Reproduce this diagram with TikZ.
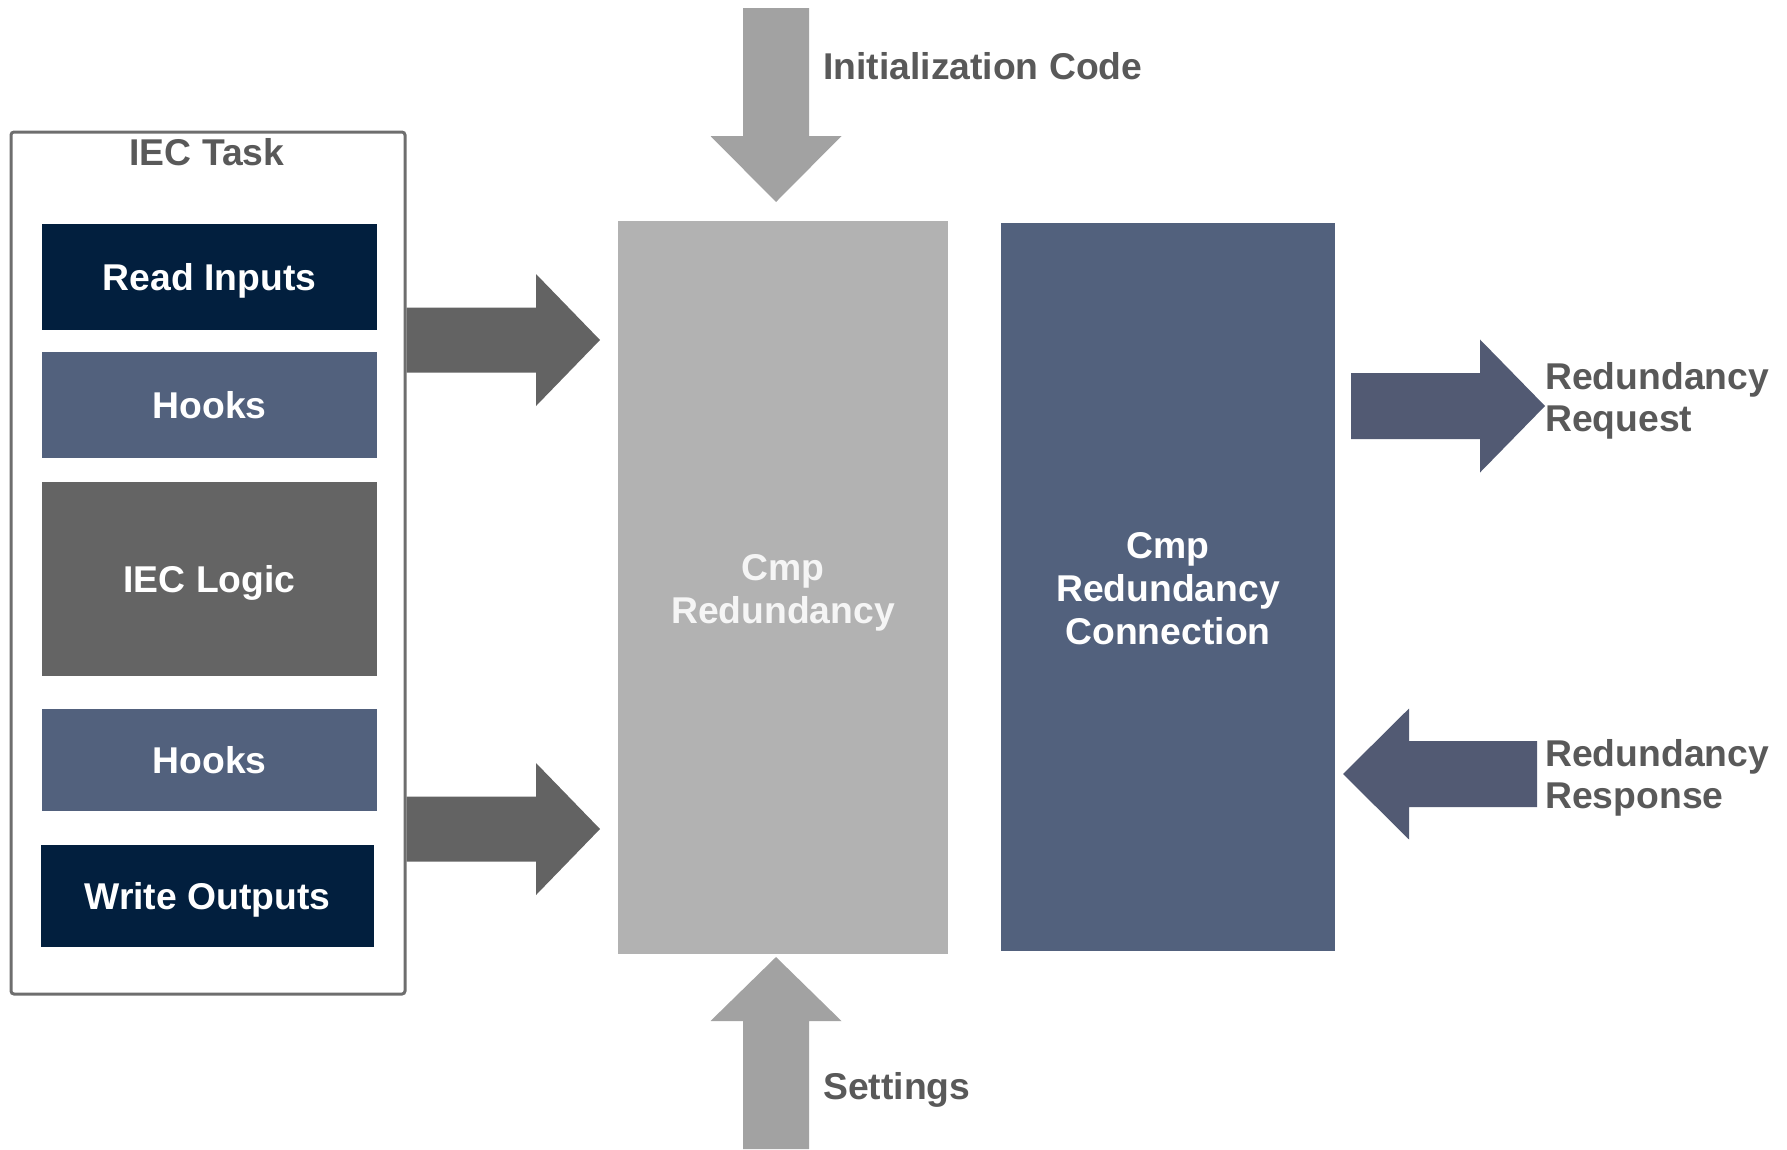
\documentclass[tikz,border=0pt]{standalone}
\usepackage{fontspec}
\setmainfont{Liberation Sans}
\usetikzlibrary{calc}

\definecolor{navy}{HTML}{021F3E}
\definecolor{slate}{HTML}{52617D}
\definecolor{logicgray}{HTML}{646464}
\definecolor{cmpgray}{HTML}{B2B2B2}
\definecolor{feedgray}{HTML}{A2A2A2}
\definecolor{flowgray}{HTML}{636363}
\definecolor{linkslate}{HTML}{525A73}
\definecolor{labelgray}{HTML}{595959}
\definecolor{framegray}{HTML}{6E6E6E}

% Block arrow from a tail point to a tip point:
% #1 colour, #2 tail, #3 tip, #4 half shaft width, #5 head length, #6 half head width
\newcommand\blockarrow[6]{%
  \path ($(#3)!#5pt!(#2)$) coordinate (ba-neck);
  \fill[#1] ($(#2)!#4pt!90:(#3)$) -- ($(ba-neck)!#4pt!90:(#3)$)
    -- ($(ba-neck)!#6pt!90:(#3)$) -- (#3)
    -- ($(ba-neck)!#6pt!-90:(#3)$) -- ($(ba-neck)!#4pt!-90:(#3)$)
    -- ($(#2)!#4pt!-90:(#3)$) -- cycle;}

\begin{document}
\begin{tikzpicture}[x=1pt,y=-1pt,
  font=\fontsize{37.3}{43}\selectfont\bfseries,
  block/.style={inner sep=0pt, text=white, align=center,
                text height=30.2pt, text depth=3.5pt},
  panel/.style={inner sep=0pt},
  paneltext/.style={inner sep=0pt, text=white, align=center},
  caption/.style={inner sep=0pt, text=labelgray, align=left, anchor=west,
                  font=\fontsize{37.3}{42}\selectfont\bfseries}]
\useasboundingbox (0,0) rectangle (1787,1149);

% IEC task frame and its stages
\node[draw=framegray, line width=3pt, rounded corners=3pt, inner sep=0pt,
      minimum width=394pt, minimum height=862pt] (task) at (208,563) {};
\node[inner sep=0pt, text=labelgray] (tasktitle) at (207,152) {IEC Task};
\node[block, fill=navy,      minimum width=335pt, minimum height=106pt] (read)   at (209.5,277) {Read Inputs};
\node[block, fill=slate,     minimum width=335pt, minimum height=106pt] (hooksa) at (209.5,405) {Hooks};
\node[block, fill=logicgray, minimum width=335pt, minimum height=194pt] (logic)  at (209.5,579) {IEC Logic};
\node[block, fill=slate,     minimum width=335pt, minimum height=102pt] (hooksb) at (209.5,760) {Hooks};
\node[block, fill=navy,      minimum width=333pt, minimum height=102pt] (write)  at (207.5,896) {Write Outputs};

% Components
\node[panel, fill=cmpgray, minimum width=330pt, minimum height=733pt] (cmp)  at (783,587.5) {};
\node[panel, fill=slate,   minimum width=334pt, minimum height=728pt] (conn) at (1168,587) {};
\node[paneltext, text=white!96!black] (cmptext)  at ($(cmp.center)+(0,5)$)  {Cmp\\Redundancy};
\node[paneltext]                      (conntext) at ($(conn.center)+(0,2)$) {Cmp\\Redundancy\\Connection};

% Labels
\node[caption] (init)     at (823,66)   {Initialization Code};
\node[caption] (settings) at (823,1090) {Settings};
\node[caption] (request)  at (1545,401) {Redundancy\\Request};
\node[caption] (response) at (1545,778) {Redundancy\\Response};

% Arrow end points
\coordinate (inA)   at (task.east |- 0,340);
\coordinate (inAt)  at (600,340);
\coordinate (inB)   at (task.east |- 0,829);
\coordinate (inBt)  at (600,829);
\coordinate (initS) at (776,8);
\coordinate (initT) at (776,202);
\coordinate (setS)  at (776,1149);
\coordinate (setT)  at (776,957);
\coordinate (reqS)  at (1351,406);
\coordinate (reqT)  at (request.west |- 0,406);
\coordinate (resS)  at (1537,774);
\coordinate (resT)  at (1343,774);

% Arrows
\blockarrow{flowgray}{inA}{inAt}{32.5}{64}{66}
\blockarrow{flowgray}{inB}{inBt}{32.5}{64}{66}
\blockarrow{feedgray}{initS}{initT}{33}{66}{65.5}
\blockarrow{feedgray}{setS}{setT}{33}{64}{65.5}
\blockarrow{linkslate}{reqS}{reqT}{33}{65}{66.5}
\blockarrow{linkslate}{resS}{resT}{33}{66}{65.5}
\end{tikzpicture}
\end{document}
